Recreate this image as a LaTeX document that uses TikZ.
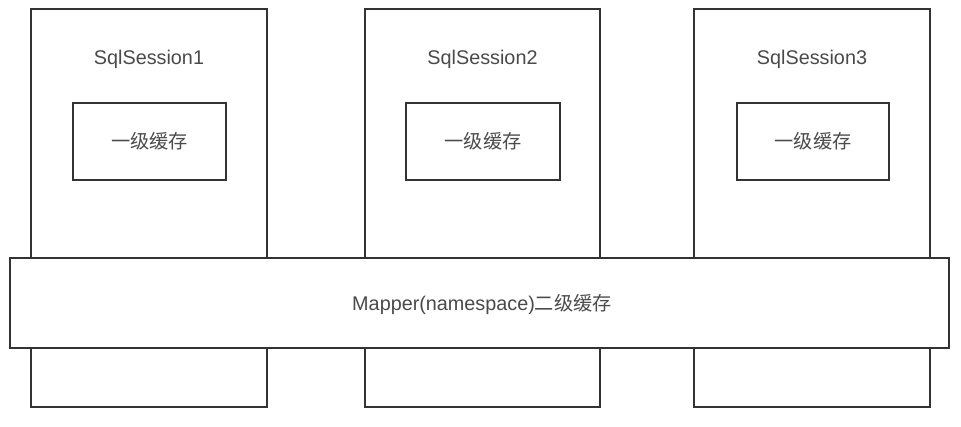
\documentclass[tikz,border=0pt]{standalone}
\usepackage{fontspec}
\setmainfont{Liberation Sans}
\newfontfamily\cjk{Noto Sans CJK SC}[Scale=0.97]
\definecolor{linec}{HTML}{333333}
\definecolor{textc}{HTML}{4A4A4A}
\begin{document}
\begin{tikzpicture}[x=1pt,y=-1pt,
  sessbox/.style={draw=linec,line width=1.4pt,fill=white},
  cachebox/.style={draw=linec,line width=1.4pt,fill=white},
  lbl/.style={text=textc,font=\fontsize{19.8}{22}\selectfont,inner sep=0pt}]
\path[use as bounding box] (0,0) rectangle (961,427);
\fill[white] (0,0) rectangle (961,427);
% sessions
\foreach \i/\xl/\xr/\cl/\cr in {1/31/267/73/226, 2/365/600/406/560, 3/694/930/737/889}{
  \draw[sessbox] (\xl,9) rectangle (\xr,407);
  \node[lbl] (s\i) at ({(\xl+\xr)/2},59) {SqlSession\i};
  \draw[cachebox] (\cl,103) rectangle (\cr,180);
  \node[lbl] (c\i) at ({(\cl+\cr)/2},141) {\cjk 一级缓存};
}
\draw[sessbox] (10,258) rectangle (949,348);
\node[lbl] (m) at (482,304) {Mapper(namespace){\cjk 二级缓存}};
\end{tikzpicture}
\end{document}
